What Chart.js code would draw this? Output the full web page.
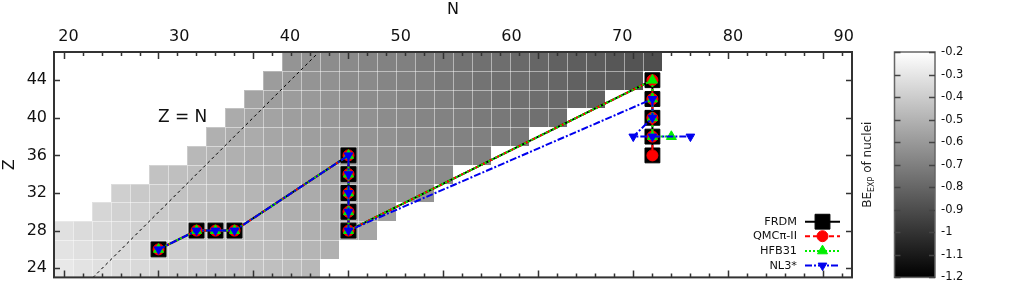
<!DOCTYPE html>
<html>
<head>
<meta charset="utf-8">
<script src="https://cdn.jsdelivr.net/npm/chart.js"></script>
<style>
  body { margin: 0; background: #fff; }
  #wrap { width: 1011px; height: 294px; }
</style>
</head>
<body>
<div id="wrap"><canvas id="nucChart" width="1011" height="294"></canvas></div>
<script>
// N position of each heat-map column centre, as read on the N axis
const colN = [19.55, 21.27, 22.98, 24.70, 26.41, 28.13, 29.84, 31.56, 33.27, 34.99,
              36.70, 38.42, 40.13, 41.85, 43.56, 45.28, 46.99, 48.71, 50.42, 52.14,
              53.85, 55.57, 57.28, 59.00, 60.71, 62.43, 64.14, 65.86, 67.57, 69.29,
              71.00, 72.72, 74.43, 76.15];
const cellWidthN = 1.715;
const cellHeightZ = 2;

// heat-map rows: Z of the row, first filled column, BE_EXP of each cell
const rowZ = [24, 26, 28, 30, 32, 34, 36, 38, 40, 42, 44, 46];
const rowFirstCol = [0, 0, 0, 2, 3, 5, 7, 8, 9, 10, 11, 12];
const rowBE = [
  [-0.29, -0.31, -0.32, -0.34, -0.35, -0.36, -0.38, -0.39, -0.41, -0.42, -0.44, -0.45, -0.46, -0.48],
  [-0.31, -0.32, -0.34, -0.35, -0.36, -0.38, -0.39, -0.41, -0.42, -0.44, -0.45, -0.46, -0.48, -0.49, -0.51],
  [-0.32, -0.34, -0.35, -0.36, -0.38, -0.39, -0.41, -0.42, -0.44, -0.45, -0.46, -0.48, -0.49, -0.51, -0.52, -0.53, -0.55],
  [-0.36, -0.38, -0.39, -0.41, -0.42, -0.44, -0.45, -0.46, -0.48, -0.49, -0.51, -0.52, -0.53, -0.55, -0.56, -0.58],
  [-0.39, -0.41, -0.42, -0.44, -0.45, -0.46, -0.48, -0.49, -0.51, -0.52, -0.53, -0.55, -0.56, -0.58, -0.59, -0.60, -0.62],
  [-0.44, -0.45, -0.46, -0.48, -0.49, -0.51, -0.52, -0.53, -0.55, -0.56, -0.58, -0.59, -0.60, -0.62, -0.63, -0.65],
  [-0.48, -0.49, -0.51, -0.52, -0.53, -0.55, -0.56, -0.58, -0.59, -0.60, -0.62, -0.63, -0.65, -0.66, -0.68, -0.69],
  [-0.51, -0.52, -0.53, -0.55, -0.56, -0.58, -0.59, -0.60, -0.62, -0.63, -0.65, -0.66, -0.68, -0.69, -0.70, -0.72, -0.73],
  [-0.53, -0.55, -0.56, -0.58, -0.59, -0.60, -0.62, -0.63, -0.65, -0.66, -0.68, -0.69, -0.70, -0.72, -0.73, -0.75, -0.76, -0.77],
  [-0.56, -0.58, -0.59, -0.60, -0.62, -0.63, -0.65, -0.66, -0.68, -0.69, -0.70, -0.72, -0.73, -0.75, -0.76, -0.77, -0.79, -0.80, -0.82],
  [-0.59, -0.60, -0.62, -0.63, -0.65, -0.66, -0.68, -0.69, -0.70, -0.72, -0.73, -0.75, -0.76, -0.77, -0.79, -0.80, -0.82, -0.83, -0.84, -0.86],
  [-0.62, -0.63, -0.65, -0.66, -0.68, -0.69, -0.70, -0.72, -0.73, -0.75, -0.76, -0.77, -0.79, -0.80, -0.82, -0.83, -0.84, -0.86, -0.87, -0.89]
];

const xTickLabels = [20, 30, 40, 50, 60, 70, 80, 90];
const yTickLabels = [24, 28, 32, 36, 40, 44];
const cbarTicks = [-0.2, -0.3, -0.4, -0.5, -0.6, -0.7, -0.8, -0.9, -1, -1.1, -1.2];

// model points (N, Z)
const frdmN = [28.13, 31.56, 33.27, 34.99, 45.28, 45.28, 45.28, 45.28, 45.28, 72.72, 72.72, 72.72, 72.72, 72.72];
const frdmZ = [26, 28, 28, 28, 36, 34, 32, 30, 28, 44, 42, 40, 38, 36];
const qmcN = [28.13, 31.56, 33.27, 34.99, 45.28, 45.28, 45.28, 45.28, 45.28, 72.72, 72.72, 72.72, 72.72, 72.72];
const qmcZ = [26, 28, 28, 28, 36, 34, 32, 30, 28, 44, 42, 40, 38, 36];
const hfbN = [28.13, 31.56, 33.27, 34.99, 45.28, 45.28, 45.28, 45.28, 45.28, 72.72, 72.72, 72.72, 72.72, 74.43];
const hfbZ = [26, 28, 28, 28, 36, 34, 32, 30, 28, 44, 42, 40, 38, 38];
const nl3N = [28.13, 31.56, 33.27, 34.99, 45.28, 45.28, 45.28, 45.28, 45.28, 72.72, 72.72, 70.99, 72.72, 76.15];
const nl3Z = [26, 28, 28, 28, 36, 34, 32, 30, 28, 42, 40, 38, 38, 38];

// Z = N guide line (in the plot's own N units)
const zEqNN = [22.2, 42.7];
const zEqNZ = [23.0, 47.1];

const pts = (xs, ys) => xs.map((v, i) => ({ x: v, y: ys[i] }));

const FONT = "'DejaVu Sans', sans-serif";
const cbMin = -1.2, cbMax = -0.2;

function grey(v) {
  let t = (v - cbMin) / (cbMax - cbMin);
  t = Math.max(0, Math.min(1, t));
  const g = Math.round(255 * t);
  return `rgb(${g},${g},${g})`;
}

const series = [
  { label: "FRDM", N: frdmN, Z: frdmZ, color: "#000000", dash: [], style: "rect", r: 10.5, rot: 0, order: 4 },
  { label: "QMCπ-II", N: qmcN, Z: qmcZ, color: "#ff0000", dash: [5, 3], style: "circle", r: 5.5, rot: 0, order: 3 },
  { label: "HFB31", N: hfbN, Z: hfbZ, color: "#00ee00", dash: [2, 2], style: "triangle", r: 5.8, rot: 0, order: 2 },
  { label: "NL3*", N: nl3N, Z: nl3Z, color: "#0000ee", dash: [7, 2, 2, 2], style: "triangle", r: 5, rot: 180, order: 1 }
];

// small marker painter for the legend
function drawMarker(ctx, s, x, y) {
  ctx.save();
  ctx.fillStyle = s.color;
  ctx.strokeStyle = s.color;
  ctx.lineWidth = 1;
  ctx.setLineDash([]);
  ctx.beginPath();
  if (s.style === "rect") {
    const h = s.r * Math.SQRT1_2;
    ctx.rect(x - h, y - h, 2 * h, 2 * h);
  } else if (s.style === "circle") {
    ctx.arc(x, y, s.r, 0, Math.PI * 2);
  } else {
    const dir = s.rot ? -1 : 1;
    for (let k = 0; k < 3; k++) {
      const a = k * 2 * Math.PI / 3;
      const px = x + Math.sin(a) * s.r;
      const py = y - dir * Math.cos(a) * s.r;
      if (k === 0) ctx.moveTo(px, py); else ctx.lineTo(px, py);
    }
    ctx.closePath();
  }
  ctx.fill();
  ctx.stroke();
  ctx.restore();
}

const heatmapPlugin = {
  id: "heatmap",
  beforeDatasetsDraw(chart) {
    const { ctx, chartArea: a, scales: { x, y } } = chart;
    ctx.save();
    ctx.beginPath();
    ctx.rect(a.left, a.top, a.right - a.left, a.bottom - a.top);
    ctx.clip();
    const rects = [];
    rowZ.forEach((z, r) => {
      rowBE[r].forEach((v, k) => {
        const n = colN[rowFirstCol[r] + k];
        const x0 = Math.round(x.getPixelForValue(n - cellWidthN / 2));
        const x1 = Math.round(x.getPixelForValue(n + cellWidthN / 2));
        const y0 = Math.round(y.getPixelForValue(z + cellHeightZ / 2));
        const y1 = Math.round(y.getPixelForValue(z - cellHeightZ / 2));
        ctx.fillStyle = grey(v);
        ctx.fillRect(x0, y0, x1 - x0, y1 - y0);
        rects.push([x0, y0, x1 - x0, y1 - y0]);
      });
    });
    ctx.strokeStyle = "rgba(255,255,255,0.28)";
    ctx.lineWidth = 1;
    rects.forEach(([rx, ry, rw, rh]) => ctx.strokeRect(rx + 0.5, ry + 0.5, rw, rh));
    ctx.restore();
  },
  afterDatasetsDraw(chart) {
    const { ctx, scales: { x, y } } = chart;
    // Z = N label
    ctx.save();
    ctx.font = "17px " + FONT;
    ctx.fillStyle = "#111";
    ctx.textAlign = "center";
    ctx.textBaseline = "middle";
    ctx.fillText("Z = N", x.getPixelForValue(30.3), y.getPixelForValue(40));
    ctx.restore();

    // legend
    const a = chart.chartArea;
    const textX = a.right - 55, lx0 = a.right - 47, lx1 = a.right - 12;
    const rowY = [221.7, 236.2, 250.9, 265.6];
    ctx.save();
    ctx.font = "11.3px " + FONT;
    ctx.textAlign = "right";
    ctx.textBaseline = "middle";
    series.forEach((s, i) => {
      const yy = rowY[i];
      ctx.fillStyle = "#111";
      ctx.fillText(s.label, textX, yy);
      ctx.strokeStyle = s.color;
      ctx.lineWidth = 2;
      ctx.setLineDash(s.dash);
      ctx.beginPath();
      ctx.moveTo(lx0, yy);
      ctx.lineTo(lx1, yy);
      ctx.stroke();
      drawMarker(ctx, s, (lx0 + lx1) / 2, yy);
    });
    ctx.restore();
  },
  afterDraw(chart) {
    const { ctx, chartArea: a, scales: { x, y, cbar } } = chart;
    ctx.save();
    // plot frame
    ctx.strokeStyle = "#333";
    ctx.lineWidth = 2;
    ctx.strokeRect(a.left, a.top, a.right - a.left, a.bottom - a.top);
    // y ticks, inward on both sides
    ctx.lineWidth = 1.5;
    yTickLabels.forEach(v => {
      const py = Math.round(y.getPixelForValue(v)) + 0.5;
      ctx.beginPath();
      ctx.moveTo(a.left, py); ctx.lineTo(a.left + 6, py);
      ctx.moveTo(a.right, py); ctx.lineTo(a.right - 6, py);
      ctx.stroke();
    });
    // x ticks at cell centres, inward on top and bottom
    let k = 0;
    for (let n = colN[0]; n <= x.max; n += cellWidthN, k++) {
      const px = Math.round(x.getPixelForValue(n)) + 0.5;
      const len = k % 5 === 0 ? 7 : 4;
      ctx.beginPath();
      ctx.moveTo(px, a.top); ctx.lineTo(px, a.top + len);
      ctx.moveTo(px, a.bottom); ctx.lineTo(px, a.bottom - len);
      ctx.stroke();
    }

    // colour bar
    const bx0 = 894.5, bx1 = 935;
    const yTop = cbar.getPixelForValue(cbMax), yBot = cbar.getPixelForValue(cbMin);
    const grad = ctx.createLinearGradient(0, yTop, 0, yBot);
    grad.addColorStop(0, grey(cbMax));
    grad.addColorStop(1, grey(cbMin));
    ctx.fillStyle = grad;
    ctx.fillRect(bx0, yTop, bx1 - bx0, yBot - yTop);
    ctx.strokeStyle = "#666";
    ctx.lineWidth = 1.5;
    ctx.strokeRect(bx0, yTop, bx1 - bx0, yBot - yTop);
    ctx.font = "11.5px " + FONT;
    ctx.fillStyle = "#111";
    ctx.textAlign = "left";
    ctx.textBaseline = "middle";
    ctx.strokeStyle = "#444";
    cbarTicks.forEach(v => {
      const py = Math.round(cbar.getPixelForValue(v)) + 0.5;
      ctx.beginPath();
      ctx.moveTo(bx0, py); ctx.lineTo(bx0 + 6, py);
      ctx.moveTo(bx1, py); ctx.lineTo(bx1 - 6, py);
      ctx.stroke();
      ctx.fillText(String(v), 941, py);
    });

    // colour bar title, rotated, with subscript
    ctx.translate(868, (yTop + yBot) / 2);
    ctx.rotate(-Math.PI / 2);
    const big = "12px " + FONT, small = "8px " + FONT;
    ctx.font = big; const w1 = ctx.measureText("BE").width;
    ctx.font = small; const w2 = ctx.measureText("EXP").width;
    ctx.font = big; const w3 = ctx.measureText(" of nuclei").width;
    let cx = -(w1 + w2 + w3) / 2;
    ctx.fillStyle = "#222";
    ctx.textAlign = "left";
    ctx.textBaseline = "middle";
    ctx.font = big; ctx.fillText("BE", cx, 0); cx += w1;
    ctx.font = small; ctx.fillText("EXP", cx, 3.5); cx += w2;
    ctx.font = big; ctx.fillText(" of nuclei", cx, 0);
    ctx.restore();
  }
};

const datasets = series.map(s => ({
  label: s.label,
  data: pts(s.N, s.Z),
  showLine: true,
  borderColor: s.color,
  backgroundColor: s.color,
  borderWidth: 2,
  borderDash: s.dash,
  pointStyle: s.style,
  pointRadius: s.r,
  pointRotation: s.rot,
  pointBorderWidth: 1,
  pointBackgroundColor: s.color,
  pointBorderColor: s.color,
  order: s.order
}));
datasets.push({
  label: "Z = N",
  data: pts(zEqNN, zEqNZ),
  showLine: true,
  borderColor: "#000",
  borderWidth: 1,
  borderDash: [3, 3],
  pointRadius: 0,
  order: 5
});

new Chart(document.getElementById("nucChart"), {
  type: "scatter",
  data: { datasets },
  options: {
    responsive: false,
    animation: false,
    layout: { padding: { top: 0, left: 0, right: 159, bottom: 15 } },
    plugins: { legend: { display: false }, tooltip: { enabled: false } },
    scales: {
      x: {
        position: "top",
        min: 18.69,
        max: 90.74,
        grid: { display: false, drawTicks: false },
        border: { display: false },
        title: { display: true, text: "N", color: "#111", font: { family: FONT, size: 16 }, padding: 0 },
        ticks: { color: "#111", font: { family: FONT, size: 16 }, padding: 6, autoSkip: false, maxRotation: 0 },
        afterBuildTicks: s => { s.ticks = xTickLabels.map(v => ({ value: v })); },
        afterFit: s => { s.height = 52; }
      },
      y: {
        position: "left",
        min: 23.02,
        max: 47.0,
        grid: { display: false, drawTicks: false },
        border: { display: false },
        title: { display: true, text: "Z", color: "#111", font: { family: FONT, size: 16 }, padding: 0 },
        ticks: { color: "#111", font: { family: FONT, size: 16 }, padding: 7, autoSkip: false },
        afterBuildTicks: s => { s.ticks = yTickLabels.map(v => ({ value: v })); },
        afterFit: s => { s.width = 54; }
      },
      cbar: {
        type: "linear",
        position: "right",
        display: false,
        min: cbMin,
        max: cbMax
      }
    }
  },
  plugins: [heatmapPlugin]
});
</script>
</body>
</html>
